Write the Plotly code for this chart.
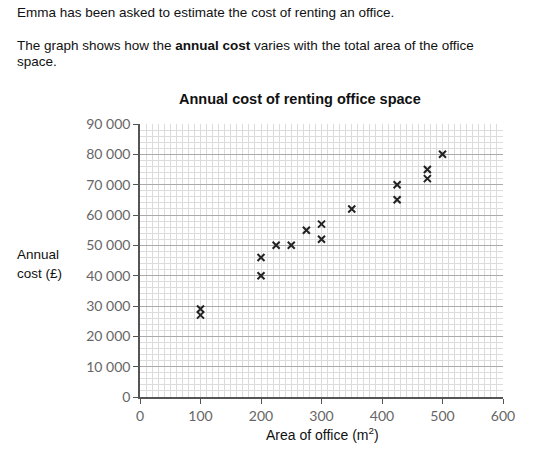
import plotly.graph_objects as go

# Data
area = [100, 100, 200, 200, 225, 250, 275, 300, 300, 350, 425, 425, 475, 475, 500]
cost = [29000, 27000, 46000, 40000, 50000, 50000, 55000, 57000, 52000, 62000,
        70000, 65000, 75000, 72000, 80000]

y_tickvals = [0, 10000, 20000, 30000, 40000, 50000, 60000, 70000, 80000, 90000]
y_ticktext = ["0", "10 000", "20 000", "30 000", "40 000", "50 000",
              "60 000", "70 000", "80 000", "90 000"]
x_tickvals = [0, 100, 200, 300, 400, 500, 600]

W, H = 549, 454
L, R, T, B = 140, 46, 124, 57
pw, ph = W - L - R, H - T - B


def px(xp):
    return (xp - L) / pw


def py(yp):
    return (H - B - yp) / ph


tick_font = dict(family="Lato", size=14, color="#666666")
text_font = dict(family="Liberation Sans, Arial", size=13.5, color="#111111")

fig = go.Figure()
fig.add_trace(go.Scatter(
    x=area, y=cost, mode="markers",
    marker=dict(symbol="x-thin", size=7, line=dict(width=2, color="#222222"), color="#222222"),
    showlegend=False, hoverinfo="skip",
))

fig.update_layout(
    width=W, height=H,
    margin=dict(l=L, r=R, t=T, b=B),
    paper_bgcolor="white", plot_bgcolor="white",
    xaxis=dict(
        range=[0, 600], tickmode="array", tickvals=x_tickvals,
        showgrid=False, zeroline=False,
        showline=True, linecolor="#555555", linewidth=1.5,
        ticks="outside", ticklen=5, tickcolor="#555555", tickwidth=1.2,
        tickfont=tick_font,
        minor=dict(dtick=10, tick0=0, showgrid=True, gridcolor="#dcdcdc", gridwidth=1, ticks=""),
    ),
    xaxis2=dict(
        range=[0, 600], overlaying="x", side="bottom", anchor="y",
        tickmode="linear", tick0=0, dtick=50,
        showgrid=True, gridcolor="#aaaaaa", gridwidth=1,
        showticklabels=False, ticks="", zeroline=False, showline=False,
    ),
    yaxis=dict(
        range=[0, 90000], tickmode="array", tickvals=y_tickvals, ticktext=y_ticktext,
        showgrid=True, gridcolor="#aaaaaa", gridwidth=1, zeroline=False,
        showline=True, linecolor="#555555", linewidth=1.5,
        ticks="outside", ticklen=5, tickcolor="#555555", tickwidth=1.2,
        tickfont=tick_font,
        minor=dict(dtick=2000, tick0=0, showgrid=True, gridcolor="#dcdcdc", gridwidth=1, ticks=""),
    ),
)

annotations = [
    dict(text="Emma has been asked to estimate the cost of renting an office.",
         x=px(15), y=py(13), xanchor="left", yanchor="middle"),
    dict(text="The graph shows how the <b>annual cost</b> varies with the total area of the office",
         x=px(15), y=py(46), xanchor="left", yanchor="middle"),
    dict(text="space.", x=px(15), y=py(62), xanchor="left", yanchor="middle"),
    dict(text="<b>Annual cost of renting office space</b>",
         x=px(300), y=py(99), xanchor="center", yanchor="middle", font=dict(size=14.5)),
    dict(text="Annual", x=px(15), y=py(254), xanchor="left", yanchor="middle"),
    dict(text="cost (£)", x=px(15), y=py(273), xanchor="left", yanchor="middle"),
    dict(text="Area of office (m<sup>2</sup>)", x=px(322), y=py(434), xanchor="center",
         yanchor="middle", font=dict(size=14)),
]
for a in annotations:
    f = dict(text_font)
    f.update(a.get("font", {}))
    a.update(xref="paper", yref="paper", showarrow=False, font=f)
fig.update_layout(annotations=annotations)

fig.write_html("out.html")
